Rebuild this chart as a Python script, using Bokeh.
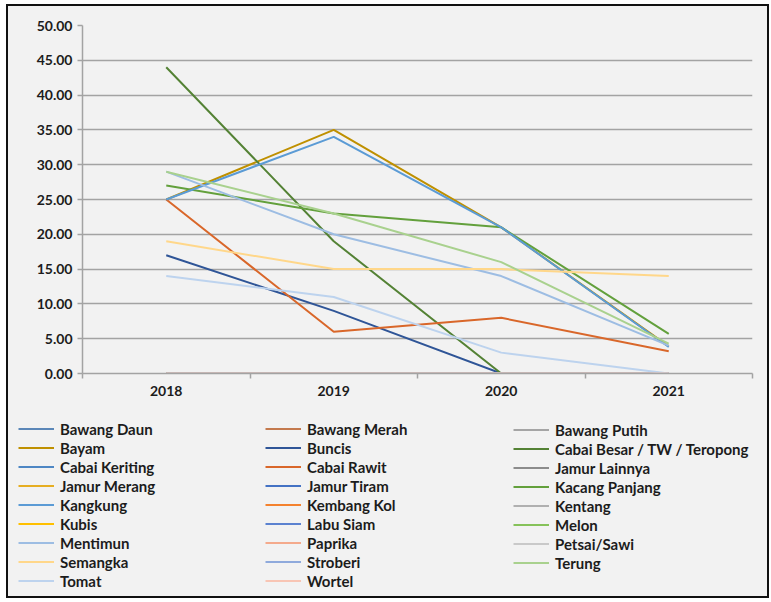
from bokeh.plotting import figure
from bokeh.layouts import column
from bokeh.models import (FixedTicker, SingleIntervalTicker, Legend, LegendItem,
                          PrintfTickFormatter, Range1d)
from bokeh.embed import file_html
from bokeh.resources import INLINE

# ---------------- data ----------------
years = ["2018", "2019", "2020", "2021"]

bawang_daun = [0, 0, 0, 0]
bawang_merah = [0, 0, 0, 0]
bawang_putih = [0, 0, 0, 0]
bayam = [25.0, 35.0, 21.0, 3.9]
buncis = [17.0, 9.0, 0.0, 0.0]
cabai_besar = [44.0, 19.0, 0.0, 0.0]
cabai_keriting = [0, 0, 0, 0]
cabai_rawit = [25.0, 6.0, 8.0, 3.2]
jamur_lainnya = [0, 0, 0, 0]
jamur_merang = [0, 0, 0, 0]
jamur_tiram = [0, 0, 0, 0]
kacang_panjang = [27.0, 23.0, 21.0, 5.7]
kangkung = [25.0, 34.0, 21.0, 3.8]
kembang_kol = [0, 0, 0, 0]
kentang = [0, 0, 0, 0]
kubis = [0, 0, 0, 0]
labu_siam = [0, 0, 0, 0]
melon = [0, 0, 0, 0]
mentimun = [29.0, 20.0, 14.0, 4.0]
paprika = [0, 0, 0, 0]
petsai_sawi = [0, 0, 0, 0]
semangka = [19.0, 15.0, 15.0, 14.0]
stroberi = [0, 0, 0, 0]
terung = [29.0, 23.0, 16.0, 4.3]
tomat = [14.0, 11.0, 3.0, 0.0]
wortel = [0, 0, 0, 0]

series = [
    ("Bawang Daun", bawang_daun, "#5B87B8"),
    ("Bawang Merah", bawang_merah, "#C47A4E"),
    ("Bawang Putih", bawang_putih, "#A5A5A5"),
    ("Bayam", bayam, "#BF9000"),
    ("Buncis", buncis, "#2F5597"),
    ("Cabai Besar / TW / Teropong", cabai_besar, "#548235"),
    ("Cabai Keriting", cabai_keriting, "#4E87C4"),
    ("Cabai Rawit", cabai_rawit, "#D9672A"),
    ("Jamur Lainnya", jamur_lainnya, "#8C8C8C"),
    ("Jamur Merang", jamur_merang, "#E6AE22"),
    ("Jamur Tiram", jamur_tiram, "#4472C4"),
    ("Kacang Panjang", kacang_panjang, "#63A03C"),
    ("Kangkung", kangkung, "#5B9BD5"),
    ("Kembang Kol", kembang_kol, "#F4822E"),
    ("Kentang", kentang, "#B0B0B0"),
    ("Kubis", kubis, "#FFC000"),
    ("Labu Siam", labu_siam, "#5B82D0"),
    ("Melon", melon, "#86C25A"),
    ("Mentimun", mentimun, "#9DBDE3"),
    ("Paprika", paprika, "#F4AA8C"),
    ("Petsai/Sawi", petsai_sawi, "#C9C9C9"),
    ("Semangka", semangka, "#FFD78A"),
    ("Stroberi", stroberi, "#8FAADC"),
    ("Terung", terung, "#A9D18E"),
    ("Tomat", tomat, "#BDD3EE"),
    ("Wortel", wortel, "#F8C5B4"),
]

x_centers = [i + 0.5 for i in range(len(years))]
x_bounds = [float(i) for i in range(len(years) + 1)]

FONT = "Lato"
TEXT = "#1c1c1c"
GRAY = "#a3a3a3"
BG = "#f2f2f2"
BORDER = "2px solid #111111"

# ---------------- chart ----------------
p = figure(width=763, height=406,
           x_range=Range1d(0, len(years)), y_range=Range1d(0, 50),
           output_backend="svg", toolbar_location=None,
           min_border_left=74, min_border_right=19,
           min_border_top=19, min_border_bottom=39,
           background_fill_color=BG, border_fill_color=BG,
           outline_line_color=None)
p.frame_align = False
p.styles = {"border-top": BORDER, "border-left": BORDER, "border-right": BORDER,
            "background-color": BG}

p.yaxis.ticker = SingleIntervalTicker(interval=5, num_minor_ticks=0)
p.yaxis.formatter = PrintfTickFormatter(format="%.2f")
p.yaxis.axis_line_color = GRAY
p.yaxis.axis_line_width = 1.5
p.yaxis.major_tick_line_color = GRAY
p.yaxis.major_tick_line_width = 1.5
p.yaxis.major_tick_out = 5
p.yaxis.major_tick_in = 0
p.yaxis.minor_tick_line_color = None
p.yaxis.major_label_standoff = 5

p.xaxis.ticker = FixedTicker(ticks=x_centers, minor_ticks=x_bounds)
p.xaxis.major_label_overrides = {c: y for c, y in zip(x_centers, years)}
p.xaxis.axis_line_color = GRAY
p.xaxis.axis_line_width = 1.5
p.xaxis.major_tick_line_color = None
p.xaxis.major_tick_out = 5
p.xaxis.major_tick_in = 0
p.xaxis.minor_tick_line_color = GRAY
p.xaxis.minor_tick_line_width = 1.5
p.xaxis.minor_tick_out = 5
p.xaxis.minor_tick_in = 0
p.xaxis.major_label_standoff = 7

for ax in (p.xaxis, p.yaxis):
    ax.major_label_text_font = FONT
    ax.major_label_text_font_style = "bold"
    ax.major_label_text_font_size = "14px"
    ax.major_label_text_color = TEXT

p.xgrid.visible = False
p.ygrid.grid_line_color = GRAY
p.ygrid.grid_line_width = 1.5

for name, vals, color in series:
    p.line(x_centers, vals, line_color=color, line_width=2)

# ---------------- legend panel ----------------
q = figure(width=763, height=188,
           x_range=Range1d(0, len(years)), y_range=Range1d(0, 50),
           x_axis_type=None, y_axis_type=None,
           output_backend="svg", toolbar_location=None,
           min_border_left=0, min_border_right=0,
           min_border_top=0, min_border_bottom=0,
           background_fill_color=BG, border_fill_color=BG,
           outline_line_color=None)
q.frame_align = False
q.styles = {"border-bottom": BORDER, "border-left": BORDER, "border-right": BORDER,
            "background-color": BG}
q.xgrid.visible = False
q.ygrid.visible = False

items = []
for name, vals, color in series:
    r = q.line(x_centers, vals, line_color=color, line_width=2, visible=False)
    items.append(LegendItem(label=name, renderers=[r]))

col_x = [10, 257, 505]
ROW = 19
for c in range(3):
    col_items = items[c::3]
    h = len(col_items) * ROW
    leg = Legend(items=col_items, location=(col_x[c], round(188 - 9.5 - h)),
                 orientation="vertical",
                 background_fill_alpha=0, border_line_alpha=0,
                 padding=0, margin=0, spacing=0,
                 glyph_width=36, glyph_height=ROW, label_height=ROW,
                 label_standoff=6,
                 label_text_font=FONT, label_text_font_style="bold",
                 label_text_font_size="15px", label_text_color=TEXT,
                 click_policy="none")
    q.add_layout(leg, "center")

layout = column(p, q, spacing=0)
layout.styles = {"margin-left": "6px", "margin-top": "4px", "background-color": BG}

open("out.html", "w").write(file_html(layout, INLINE))
